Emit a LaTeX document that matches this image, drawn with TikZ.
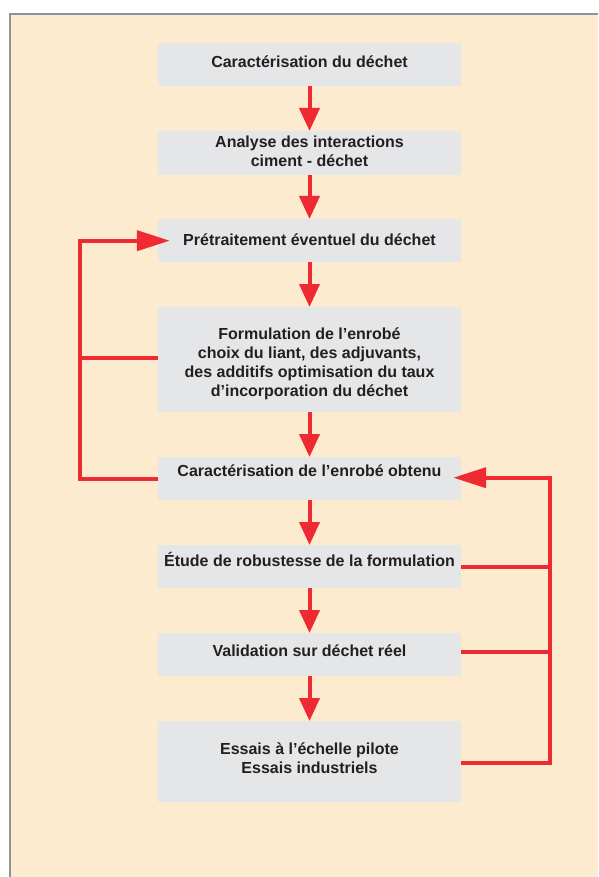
\documentclass[tikz,border=0pt]{standalone}
\usepackage{fontspec}
\setmainfont{Liberation Sans}
\usetikzlibrary{arrows.meta}
\definecolor{bg}{HTML}{FDEBD0}
\definecolor{boxc}{HTML}{E5E6E8}
\definecolor{redc}{HTML}{EE2A33}
\definecolor{framec}{HTML}{8C9399}
\definecolor{txt}{HTML}{231F20}
\newcommand\liftlines[2]{\raisebox{#1}[\height][\depth]{\begin{tabular}{@{}c@{}}#2\end{tabular}}}
\begin{document}
\begin{tikzpicture}[x=1pt,y=-1pt,
  stepbox/.style={fill=boxc, minimum width=303pt, inner sep=0pt,
    font=\bfseries\fontsize{16}{19}\selectfont, text=txt, anchor=north},
  flow/.style={draw=redc, line width=4pt, -{Triangle[length=23pt,width=20pt]}},
  back/.style={draw=redc, line width=4pt, -{Triangle[length=33pt,width=20pt]}},
  link/.style={draw=redc, line width=4pt}]
\useasboundingbox (0,0) rectangle (598,877);
\fill[white] (0,0) rectangle (598,877);
\fill[bg] (10,14) rectangle (598,877);
\draw[framec, line width=1.3pt] (10,877) -- (10,14) -- (598,14);

\node[stepbox, minimum height=43pt] (b1) at (309.5,43) {\liftlines{1pt}{Caractérisation du déchet}};
\node[stepbox, minimum height=44pt] (b2) at (309.5,131) {\liftlines{0pt}{Analyse des interactions\\ciment - déchet}};
\node[stepbox, minimum height=43pt] (b3) at (309.5,219) {\liftlines{-1pt}{Prétraitement éventuel du déchet}};
\node[stepbox, minimum height=105pt] (b4) at (309.5,307) {\liftlines{-4pt}{Formulation de l’enrobé\\choix du liant, des adjuvants,\\des additifs optimisation du taux\\d’incorporation du déchet}};
\node[stepbox, minimum height=43pt] (b5) at (309.5,457) {\liftlines{6.5pt}{Caractérisation de l’enrobé obtenu}};
\node[stepbox, minimum height=43pt] (b6) at (309.5,545) {\liftlines{4pt}{Étude de robustesse de la formulation}};
\node[stepbox, minimum height=43pt] (b7) at (309.5,633) {\liftlines{2pt}{Validation sur déchet réel}};
\node[stepbox, minimum height=81pt] (b8) at (309.5,721) {\liftlines{2pt}{Essais à l’échelle pilote\\Essais industriels}};

\coordinate (lx) at (80,0);
\coordinate (rx) at (550,0);

\draw[flow] (b1) -- (b2);
\draw[flow] (b2) -- (b3);
\draw[flow] (b3) -- (b4);
\draw[flow] (b4) -- (b5);
\draw[flow] (b5) -- (b6);
\draw[flow] (b6) -- (b7);
\draw[flow] (b7) -- (b8);

\draw[back] (b5.west) -- (b5.west -| lx) |- ([xshift=12pt]b3.west);
\draw[link] ([yshift=2pt]b4.west) -- ([yshift=2pt]b4.west -| lx);

\draw[back] ([yshift=-1.5pt]b8.east) -- ([yshift=-1.5pt]b8.east -| rx) |- ([xshift=-8pt,yshift=1pt]b5.east);
\draw[link] (b6.east) -- (b6.east -| rx);
\draw[link] ([yshift=3pt]b7.east) -- ([yshift=3pt]b7.east -| rx);
\end{tikzpicture}
\end{document}
